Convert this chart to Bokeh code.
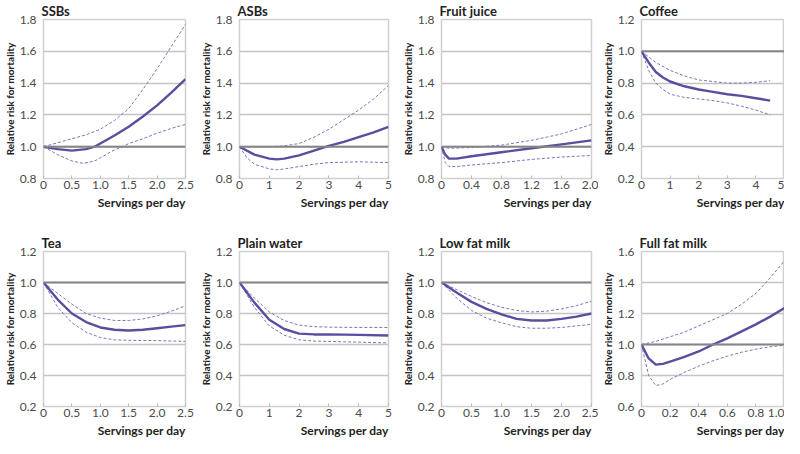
from bokeh.plotting import figure
from bokeh.layouts import column, row
from bokeh.models import FixedTicker, Span, Title, Spacer
from bokeh.embed import file_html
from bokeh.resources import INLINE

# ---------------- data ----------------
titles = ["SSBs", "ASBs", "Fruit juice", "Coffee", "Tea", "Plain water", "Low fat milk", "Full fat milk"]

ssb_x = [0, 0.25, 0.5, 0.75, 0.9, 1.0, 1.25, 1.5, 1.75, 2.0, 2.25, 2.5]
ssb_rr = [1.0, 0.985, 0.975, 0.985, 1.0, 1.02, 1.07, 1.125, 1.19, 1.26, 1.34, 1.425]
ssb_up_x = [0, 0.25, 0.5, 0.75, 1.0, 1.25, 1.5, 1.75, 2.0, 2.25, 2.5]
ssb_up = [1.0, 1.025, 1.05, 1.075, 1.11, 1.165, 1.24, 1.36, 1.49, 1.63, 1.77]
ssb_lo_x = [0, 0.25, 0.5, 0.7, 0.9, 1.0, 1.25, 1.4, 1.5, 1.75, 2.0, 2.25, 2.5]
ssb_lo = [1.0, 0.95, 0.91, 0.895, 0.91, 0.93, 0.98, 1.0, 1.02, 1.05, 1.085, 1.115, 1.14]

asb_x = [0, 0.5, 1.0, 1.25, 1.5, 2.0, 2.5, 3.0, 3.5, 4.0, 4.5, 5.0]
asb_rr = [1.0, 0.95, 0.925, 0.92, 0.925, 0.945, 0.975, 1.005, 1.03, 1.06, 1.09, 1.125]
asb_up_x = [0, 1.0, 1.5, 2.0, 2.5, 3.0, 3.5, 4.0, 4.5, 5.0]
asb_up = [1.0, 1.0, 1.005, 1.02, 1.06, 1.11, 1.17, 1.23, 1.3, 1.385]
asb_lo_x = [0, 0.25, 0.5, 1.0, 1.25, 1.5, 2.0, 2.5, 3.0, 4.0, 5.0]
asb_lo = [1.0, 0.93, 0.89, 0.86, 0.855, 0.86, 0.875, 0.89, 0.9, 0.905, 0.9]

fj_x = [0, 0.05, 0.1, 0.2, 0.4, 0.8, 1.2, 1.6, 2.0]
fj_rr = [1.0, 0.95, 0.925, 0.925, 0.94, 0.965, 0.99, 1.015, 1.04]
fj_up_x = [0, 0.1, 0.4, 0.8, 1.2, 1.6, 2.0]
fj_up = [1.0, 0.99, 0.995, 1.01, 1.04, 1.08, 1.14]
fj_lo_x = [0, 0.05, 0.1, 0.2, 0.4, 0.8, 1.2, 1.6, 2.0]
fj_lo = [1.0, 0.9, 0.875, 0.875, 0.885, 0.9, 0.92, 0.935, 0.945]

cof_x = [0, 0.25, 0.5, 0.75, 1.0, 1.5, 2.0, 2.5, 3.0, 3.5, 4.0, 4.5]
cof_rr = [1.0, 0.93, 0.87, 0.835, 0.81, 0.78, 0.76, 0.745, 0.73, 0.72, 0.705, 0.69]
cof_up_x = [0, 0.5, 1.0, 1.5, 2.0, 2.5, 3.0, 3.5, 4.0, 4.5]
cof_up = [1.0, 0.93, 0.88, 0.845, 0.82, 0.81, 0.8, 0.8, 0.805, 0.815]
cof_lo_x = [0, 0.25, 0.5, 0.75, 1.0, 1.5, 2.0, 2.5, 3.0, 3.5, 4.0, 4.5]
cof_lo = [1.0, 0.88, 0.8, 0.76, 0.73, 0.71, 0.7, 0.69, 0.675, 0.655, 0.63, 0.6]

tea_x = [0, 0.25, 0.5, 0.75, 1.0, 1.25, 1.5, 1.75, 2.0, 2.25, 2.5]
tea_rr = [1.0, 0.89, 0.8, 0.745, 0.71, 0.695, 0.69, 0.695, 0.705, 0.715, 0.725]
tea_up_x = [0, 0.25, 0.5, 0.75, 1.0, 1.25, 1.5, 1.75, 2.0, 2.25, 2.5]
tea_up = [1.0, 0.93, 0.86, 0.8, 0.77, 0.755, 0.755, 0.765, 0.785, 0.815, 0.85]
tea_lo_x = [0, 0.25, 0.5, 0.75, 1.0, 1.25, 1.5, 2.0, 2.5]
tea_lo = [1.0, 0.84, 0.74, 0.68, 0.645, 0.63, 0.627, 0.625, 0.62]

wat_x = [0, 0.5, 1.0, 1.5, 2.0, 2.5, 3.0, 4.0, 5.0]
wat_rr = [1.0, 0.87, 0.76, 0.7, 0.67, 0.665, 0.665, 0.662, 0.658]
wat_up_x = [0, 0.5, 1.0, 1.5, 2.0, 2.5, 3.0, 4.0, 5.0]
wat_up = [1.0, 0.9, 0.81, 0.755, 0.725, 0.715, 0.712, 0.71, 0.71]
wat_lo_x = [0, 0.5, 1.0, 1.5, 2.0, 2.5, 3.0, 4.0, 5.0]
wat_lo = [1.0, 0.84, 0.72, 0.66, 0.63, 0.622, 0.62, 0.615, 0.61]

lfm_x = [0, 0.25, 0.5, 0.75, 1.0, 1.25, 1.5, 1.75, 2.0, 2.25, 2.5]
lfm_rr = [1.0, 0.935, 0.875, 0.83, 0.795, 0.765, 0.755, 0.755, 0.765, 0.78, 0.8]
lfm_up_x = [0, 0.25, 0.5, 0.75, 1.0, 1.25, 1.5, 1.75, 2.0, 2.25, 2.5]
lfm_up = [1.0, 0.955, 0.91, 0.87, 0.84, 0.82, 0.81, 0.815, 0.83, 0.85, 0.88]
lfm_lo_x = [0, 0.25, 0.5, 0.75, 1.0, 1.25, 1.5, 1.75, 2.0, 2.25, 2.5]
lfm_lo = [1.0, 0.9, 0.82, 0.77, 0.74, 0.715, 0.705, 0.705, 0.71, 0.72, 0.73]

ffm_x = [0, 0.05, 0.1, 0.15, 0.2, 0.3, 0.4, 0.5, 0.6, 0.7, 0.8, 0.9, 1.0]
ffm_rr = [1.0, 0.91, 0.87, 0.875, 0.89, 0.92, 0.955, 1.0, 1.04, 1.085, 1.13, 1.18, 1.235]
ffm_up_x = [0, 0.1, 0.2, 0.3, 0.4, 0.5, 0.6, 0.7, 0.8, 0.9, 1.0]
ffm_up = [1.0, 1.02, 1.05, 1.08, 1.12, 1.16, 1.2, 1.26, 1.33, 1.43, 1.54]
ffm_lo_x = [0, 0.05, 0.1, 0.15, 0.2, 0.3, 0.4, 0.5, 0.6, 0.7, 0.8, 0.9, 1.0]
ffm_lo = [1.0, 0.8, 0.735, 0.745, 0.775, 0.82, 0.86, 0.895, 0.925, 0.95, 0.97, 0.985, 0.995]

# tick positions and labels
xt_25 = [0, 0.5, 1.0, 1.5, 2.0, 2.5]
xl_25 = ["0", "0.5", "1.0", "1.5", "2.0", "2.5"]
xt_5 = [0, 1, 2, 3, 4, 5]
xl_5 = ["0", "1", "2", "3", "4", "5"]
xt_2 = [0, 0.4, 0.8, 1.2, 1.6, 2.0]
xl_2 = ["0", "0.4", "0.8", "1.2", "1.6", "2.0"]
xt_1 = [0, 0.2, 0.4, 0.6, 0.8, 1.0]
xl_1 = ["0", "0.2", "0.4", "0.6", "0.8", "1.0"]

yt_hi = [0.8, 1.0, 1.2, 1.4, 1.6, 1.8]
yl_hi = ["0.8", "1.0", "1.2", "1.4", "1.6", "1.8"]
yt_lo = [0.2, 0.4, 0.6, 0.8, 1.0, 1.2]
yl_lo = ["0.2", "0.4", "0.6", "0.8", "1.0", "1.2"]
yt_ff = [0.6, 0.8, 1.0, 1.2, 1.4, 1.6]
yl_ff = ["0.6", "0.8", "1.0", "1.2", "1.4", "1.6"]

reference_rr = 1.0

# ---------------- style ----------------
FONT = "Lato"
MAIN = "#5a4e9e"
DASH = "#7d74b8"
GRID = "#c4c4c4"
REF = "#858585"
FRAME = "#d0d0d0"
TXT = "#222222"
TICK = "#4a4a4a"

panels = [
    (titles[0], ssb_x, ssb_rr, ssb_up_x, ssb_up, ssb_lo_x, ssb_lo, xt_25, xl_25, yt_hi, yl_hi),
    (titles[1], asb_x, asb_rr, asb_up_x, asb_up, asb_lo_x, asb_lo, xt_5, xl_5, yt_hi, yl_hi),
    (titles[2], fj_x, fj_rr, fj_up_x, fj_up, fj_lo_x, fj_lo, xt_2, xl_2, yt_hi, yl_hi),
    (titles[3], cof_x, cof_rr, cof_up_x, cof_up, cof_lo_x, cof_lo, xt_5, xl_5, yt_lo, yl_lo),
    (titles[4], tea_x, tea_rr, tea_up_x, tea_up, tea_lo_x, tea_lo, xt_25, xl_25, yt_lo, yl_lo),
    (titles[5], wat_x, wat_rr, wat_up_x, wat_up, wat_lo_x, wat_lo, xt_5, xl_5, yt_lo, yl_lo),
    (titles[6], lfm_x, lfm_rr, lfm_up_x, lfm_up, lfm_lo_x, lfm_lo, xt_25, xl_25, yt_lo, yl_lo),
    (titles[7], ffm_x, ffm_rr, ffm_up_x, ffm_up, ffm_lo_x, ffm_lo, xt_1, xl_1, yt_ff, yl_ff),
]

widths = [196, 202, 200, 186]
lefts = [30, 30, 30, 30]
rights = [11, 10, 7, 0]
heights = [210, 206]
gap = 22


def make_panel(i, spec):
    (title, x, rr, ux, uy, lx, ly, xt, xl, yt, yl) = spec
    c = i % 4
    r = i // 4
    p = figure(width=widths[c], height=heights[r], output_backend="svg",
               toolbar_location=None, x_range=(xt[0], xt[-1]), y_range=(yt[0], yt[-1]),
               min_border_left=lefts[c], min_border_right=rights[c],
               min_border_top=0, min_border_bottom=0)
    p.title.text = title
    p.title.text_font = FONT
    p.title.text_font_size = "13px"
    p.title.text_font_style = "bold"
    p.title.text_color = TXT
    p.title.align = "left"
    p.title.offset = -2
    p.title.standoff = 1

    p.outline_line_color = FRAME
    p.outline_line_width = 1.5
    p.background_fill_color = "white"
    p.border_fill_color = "white"

    p.xgrid.visible = False
    p.ygrid.grid_line_color = GRID
    p.ygrid.grid_line_width = 1.5
    p.ygrid.ticker = FixedTicker(ticks=yt)

    p.xaxis.ticker = FixedTicker(ticks=xt)
    p.xaxis.major_label_overrides = {t: s for t, s in zip(xt, xl)}
    p.yaxis.ticker = FixedTicker(ticks=yt)
    p.yaxis.major_label_overrides = {t: s for t, s in zip(yt, yl)}

    for ax in (p.xaxis[0], p.yaxis[0]):
        ax.axis_line_color = None
        ax.minor_tick_line_color = None
        ax.major_label_text_font = FONT
        ax.major_label_text_font_size = "12px"
        ax.major_label_text_color = TICK
        ax.major_label_standoff = 2
    p.yaxis.major_label_standoff = 1
    p.xaxis.major_tick_in = 3
    p.xaxis.major_tick_out = 0
    p.xaxis.major_tick_line_color = "#bdbdbd"
    p.yaxis.major_tick_line_color = None

    p.yaxis.axis_label = "Relative risk for mortality"
    p.yaxis.axis_label_text_font = FONT
    p.yaxis.axis_label_text_font_size = "10px"
    p.yaxis.axis_label_text_font_style = "bold"
    p.yaxis.axis_label_text_color = TXT
    p.yaxis.axis_label_standoff = 1

    xlab = Title(text="Servings per day", align="right", text_font=FONT,
                 text_font_size="12px", text_font_style="bold", text_color=TXT,
                 standoff=2, offset=0)
    p.add_layout(xlab, "below")

    p.add_layout(Span(location=reference_rr, dimension="width", line_color=REF, line_width=2))

    p.line(ux, uy, line_color=DASH, line_width=1, line_dash="3 2")
    p.line(lx, ly, line_color=DASH, line_width=1, line_dash="3 2")
    p.line(x, rr, line_color=MAIN, line_width=2.4)
    return p


figs = [make_panel(i, s) for i, s in enumerate(panels)]
layout = column(row(*figs[:4]), Spacer(height=gap), row(*figs[4:]))

open("out.html", "w").write(file_html(layout, INLINE))
